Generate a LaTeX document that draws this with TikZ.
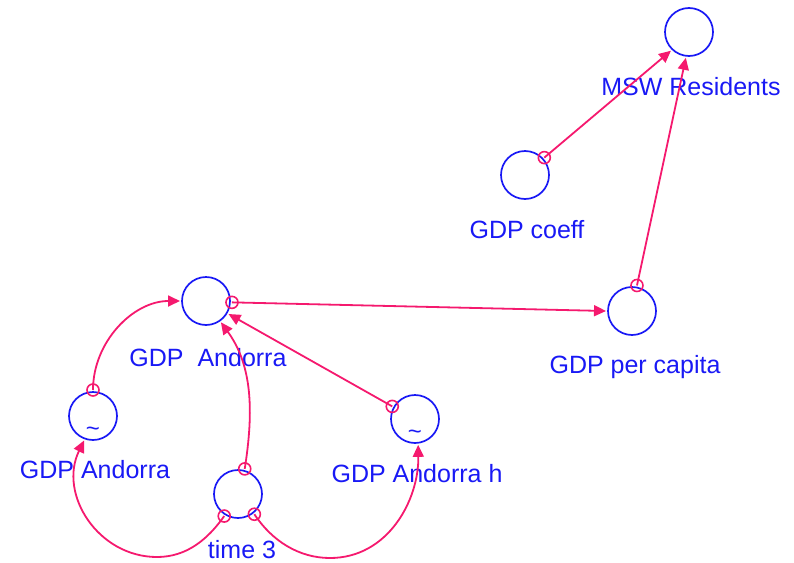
\documentclass[tikz,border=0pt]{standalone}
\usepackage{fontspec}
\setmainfont{Liberation Sans}
\usetikzlibrary{arrows.meta,calc}
\definecolor{varblue}{RGB}{25,25,245}
\definecolor{linkpink}{RGB}{245,25,110}
\begin{document}
\begin{tikzpicture}[x=1pt,y=-1pt,
  var/.style={circle,draw=varblue,line width=1.7pt,minimum size=48pt,inner sep=0pt,outer sep=2pt},
  lbl/.style={text=varblue,font=\fontsize{25}{30}\selectfont,anchor=base,inner sep=0pt},
  tilde/.style={text=varblue,font=\fontsize{24}{24}\selectfont,inner sep=0pt},
  link/.style={draw=linkpink,line width=1.8pt,-{Triangle[length=12pt,width=11pt]}},
  tail/.style={draw=linkpink,line width=1.6pt,circle,minimum size=12pt,inner sep=0pt}]
\useasboundingbox (0,0) rectangle (794,562);

% variables
\node[var] (msw)   at (689,32)  {};
\node[var] (coeff) at (525,175) {};
\node[var] (gdpa)  at (206,301) {};
\node[var] (pc)    at (632,311) {};
\node[var] (gal)   at (93,416)  {};
\node[var] (gah)   at (415,419) {};
\node[var] (t3)    at (238,494) {};

% lookup marks
\node[tilde] (gal-t) at (93,432)  {\char`\~};
\node[tilde] (gah-t) at (415,435) {\char`\~};

% labels
\node[lbl] (msw-l)   at (691,95)  {MSW Residents};
\node[lbl] (coeff-l) at (527,238) {GDP coeff};
\node[lbl] (gdpa-l)  at (208,366) {GDP\ \ Andorra};
\node[lbl] (pc-l)    at (635,373) {GDP per capita};
\node[lbl] (gal-l)   at (95,478)  {GDP Andorra};
\node[lbl] (gah-l)   at (417,482) {GDP Andorra h};
\node[lbl] (t3-l)    at (242,558) {time 3};

% straight links
\draw[link] (coeff.42) -- (msw.226);
\draw[link] (pc.79) -- (msw.263);
\draw[link] (gdpa.-3) -- (pc.180);
\draw[link] (gah.151) -- (gdpa.-30);

% curved links
\draw[link] (t3.75) .. controls (254,410) and (252,365) .. (gdpa.-55);
\draw[link] (gal.90) .. controls (93,342) and (133,301) .. (gdpa.180);
\draw[link] (t3.238) .. controls (208,539) and (187,557) .. (157,557)
                     .. controls (98,557) and (58,494) .. (gal.250);
\draw[link] (t3.-51) .. controls (272,541) and (299,558) .. (330,558)
                     .. controls (388,558) and (419,500) .. (gah.-83);

% link tails
\foreach \p in {coeff.42, pc.79, gdpa.-3, gah.151, t3.75, gal.90, t3.238, t3.-51}
  \node[tail] at (\p) {};
\end{tikzpicture}
\end{document}
